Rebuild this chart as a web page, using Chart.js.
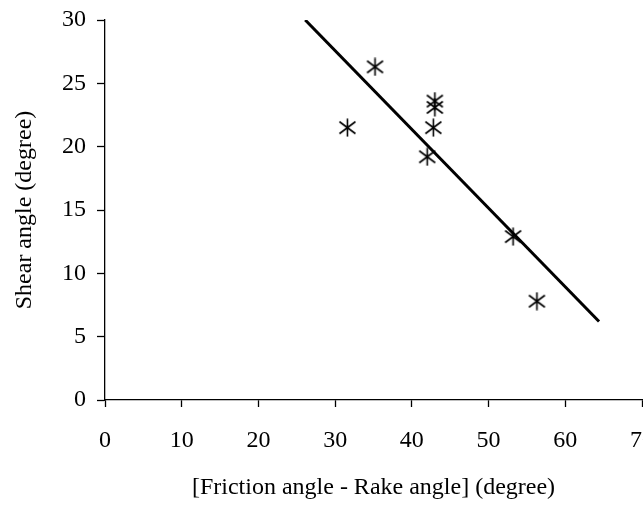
<!DOCTYPE html>
<html>
<head>
<meta charset="utf-8">
<script src="https://cdn.jsdelivr.net/npm/chart.js@4"></script>
<style>
  html, body { margin: 0; padding: 0; background: #fff; }
  #wrap { width: 643px; height: 506px; }
</style>
</head>
<body>
<div id="wrap"><canvas id="chart" width="643" height="506"></canvas></div>
<script>
// ── Data ─────────────────────────────────────────────────────
const pointX = [31.6, 35.2, 42.0, 42.8, 43.0, 43.0, 53.2, 56.3];
const pointY = [21.5, 26.3, 19.2, 21.5, 23.6, 23.1, 12.9, 7.8];

const trendX = [26.1, 64.4];
const trendY = [30, 6.2];

const xTicks = [0, 10, 20, 30, 40, 50, 60, 70];
const yTicks = [0, 5, 10, 15, 20, 25, 30];

const xTitle = '[Friction angle - Rake angle] (degree)';
const yTitle = 'Shear angle (degree)';

// ── Asterisk marker ──────────────────────────────────────────
function makeAsterisk() {
    const c = document.createElement('canvas');
    c.width = 19; c.height = 19;
    const g = c.getContext('2d');
    g.strokeStyle = '#000';
    g.lineWidth = 1.6;
    g.beginPath();
    g.moveTo(9.5, 0.5);  g.lineTo(9.5, 18.5);
    g.moveTo(1.5, 3.5);  g.lineTo(17.5, 15.5);
    g.moveTo(17.5, 3.5); g.lineTo(1.5, 15.5);
    g.stroke();
    return c;
}

// ── Keep plot area fixed, let the "70" label run off the edge ─
function fixX(s) {
    s.height = 106;
    s.paddingLeft = 0;
    s.paddingRight = 0;
}
function fixY(s) {
    s.width = 105;
    s.paddingTop = 0;
    s.paddingBottom = 0;
}

const FONT = "'Liberation Serif', 'Times New Roman', serif";

new Chart(document.getElementById('chart'), {
    type: 'scatter',
    data: {
        datasets: [
            {
                label: 'measured',
                data: pointX.map((x, i) => ({ x, y: pointY[i] })),
                pointStyle: makeAsterisk(),
                pointRadius: 9,
                showLine: false
            },
            {
                label: 'fit',
                data: trendX.map((x, i) => ({ x, y: trendY[i] })),
                showLine: true,
                pointRadius: 0,
                borderColor: '#000',
                borderWidth: 3
            }
        ]
    },
    options: {
        responsive: false,
        animation: false,
        events: [],
        layout: { autoPadding: false, padding: { top: 20, right: 1, left: 0, bottom: 0 } },
        plugins: { legend: { display: false }, tooltip: { enabled: false } },
        scales: {
            x: {
                type: 'linear',
                min: 0, max: 70,
                afterBuildTicks: s => { s.ticks = xTicks.map(v => ({ value: v })); },
                afterFit: fixX,
                border: { color: '#000', width: 1.3 },
                grid: { drawOnChartArea: false, tickLength: 7, tickColor: '#000', tickWidth: 1.3 },
                ticks: { color: '#000', padding: 19, maxRotation: 0, autoSkip: false, font: { family: FONT, size: 24 } },
                title: { display: true, text: xTitle, color: '#000', padding: { top: 4, bottom: 4 }, font: { family: FONT, size: 24 } }
            },
            y: {
                type: 'linear',
                min: 0, max: 30,
                afterBuildTicks: s => { s.ticks = yTicks.map(v => ({ value: v })); },
                afterFit: fixY,
                border: { color: '#000', width: 1.3 },
                grid: { drawOnChartArea: false, tickLength: 8, tickColor: '#000', tickWidth: 1.3 },
                ticks: { color: '#000', padding: 11, font: { family: FONT, size: 24 } },
                title: { display: true, text: yTitle, color: '#000', padding: { top: 10, bottom: 4 }, font: { family: FONT, size: 24 } }
            }
        }
    }
});
</script>
</body>
</html>
